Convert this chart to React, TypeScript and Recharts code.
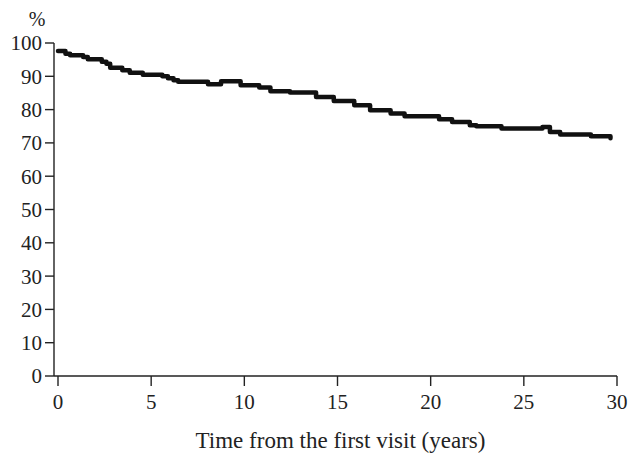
import { LineChart, Line, XAxis, YAxis } from "recharts";

// survival estimate (years from first visit -> %)
const years = [
  0, 0.4, 0.65, 1.35, 1.6, 2.35, 2.6, 2.8, 3.45, 3.85, 4.55, 5.6, 5.9, 6.2,
  6.45, 8.05, 8.75, 9.8, 10.8, 11.4, 12.45, 13.85, 14.8, 15.9, 16.75, 17.85,
  18.6, 20.45, 21.15, 22.1, 22.45, 23.8, 26.0, 26.4, 26.95, 28.6, 29.65,
];
const percent = [
  97.6, 96.8, 96.3, 95.8, 95.1, 94.4, 93.8, 92.6, 91.8, 91.1, 90.5, 90.0, 89.4,
  88.8, 88.4, 87.6, 88.5, 87.3, 86.6, 85.5, 85.1, 83.8, 82.6, 81.3, 79.8, 78.8,
  78.0, 77.1, 76.3, 75.3, 75.0, 74.3, 74.8, 73.3, 72.5, 72.0, 71.4,
];
const xTicks = [0, 5, 10, 15, 20, 25, 30];
const yTicks = [0, 10, 20, 30, 40, 50, 60, 70, 80, 90, 100];

const chartData = years.map((t, i) => ({ t, v: percent[i] }));

const font = "'Liberation Serif', 'Times New Roman', serif";
const tickStyle = { fontSize: 21, fontFamily: font, fill: "#222" };

export default function App() {
  return (
    <div style={{ position: "absolute", left: 0, top: 0, background: "#fff" }}>
      <LineChart
        width={629}
        height={458}
        data={chartData}
        margin={{ top: 43, right: 12, bottom: 0, left: 0 }}
      >
        <XAxis
          dataKey="t"
          type="number"
          domain={[0, 30]}
          ticks={xTicks}
          height={82}
          padding={{ left: 4, right: 0 }}
          tick={tickStyle}
          tickSize={10}
          tickMargin={8}
          stroke="#222"
          strokeWidth={1.4}
          label={{
            value: "Time from the first visit (years)",
            position: "insideBottom",
            offset: 10,
            dx: 5,
            style: { fontSize: 23, fontFamily: font, fill: "#222" },
          }}
        />
        <YAxis
          type="number"
          domain={[0, 100]}
          ticks={yTicks}
          width={54}
          tick={tickStyle}
          tickSize={9}
          tickMargin={3}
          stroke="#222"
          strokeWidth={1.4}
          label={{
            value: "%",
            position: "top",
            offset: 17,
            dx: 10,
            style: { fontSize: 20, fontFamily: font, fill: "#222" },
          }}
        />
        <Line
          dataKey="v"
          type="stepAfter"
          stroke="#111"
          strokeWidth={4.5}
          strokeLinejoin="round"
          strokeLinecap="round"
          dot={false}
          isAnimationActive={false}
        />
      </LineChart>
    </div>
  );
}
